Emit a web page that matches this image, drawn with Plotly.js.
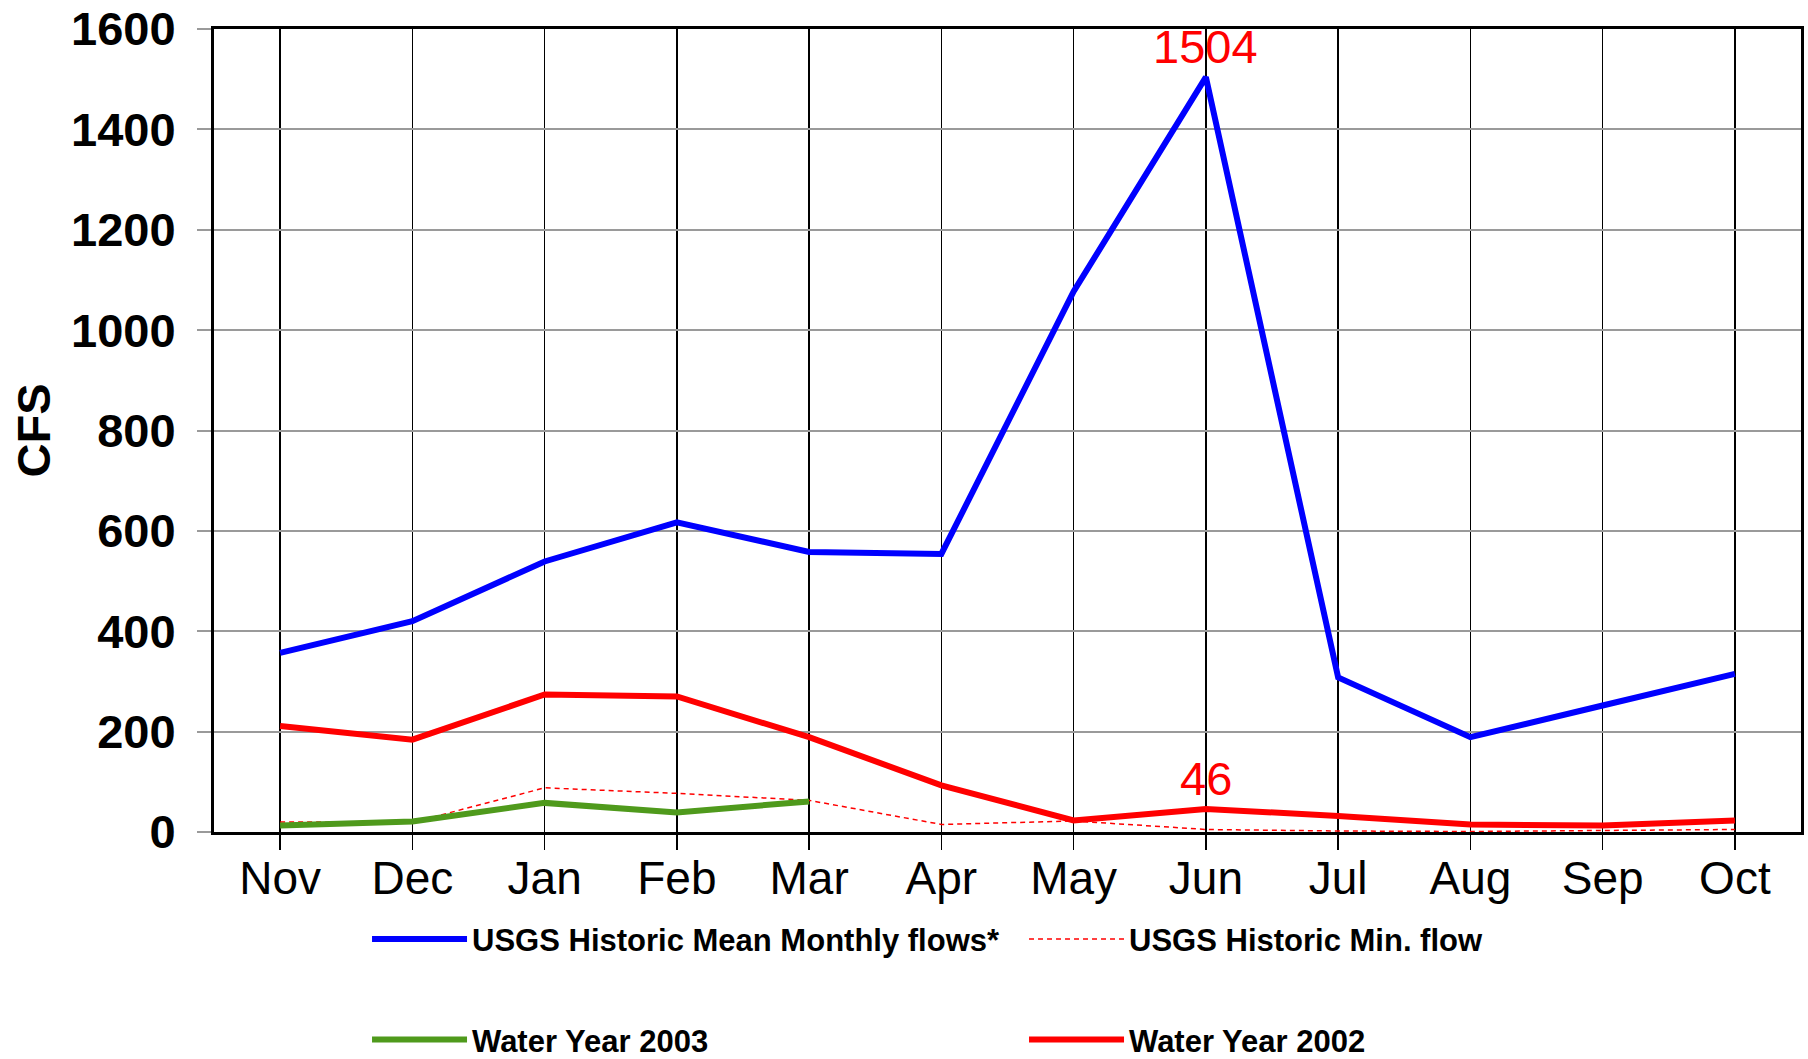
<!DOCTYPE html>
<html>
<head>
<meta charset="utf-8">
<script src="https://cdn.plot.ly/plotly-3.0.1.min.js"></script>
<style>
html,body{margin:0;padding:0;background:#fff;}
#chart{width:1808px;height:1059px;}
</style>
</head>
<body>
<div id="chart"></div>
<script>
const months = ["Nov","Dec","Jan","Feb","Mar","Apr","May","Jun","Jul","Aug","Sep","Oct"];
const meanMonthly = [357, 420, 539, 617, 558, 554, 1077, 1504, 308, 189, 252, 315];
const minFlow = [20, 19, 88, 77, 63, 15, 22, 5, 2, 1, 3, 5];
const wy2003Months = ["Nov","Dec","Jan","Feb","Mar"];
const wy2003 = [13, 21, 58, 39, 61];
const wy2002 = [211, 184, 274, 270, 189, 93, 23, 46, 32, 15, 13, 23];
const yTicks = [0, 200, 400, 600, 800, 1000, 1200, 1400, 1600];
const peakLabels = [{m:"Jun", v:1504, t:"1504"}, {m:"Jun", v:46, t:"46"}];

const FONT = "Liberation Sans, Arial, sans-serif";

const traces = [
  {x: months, y: meanMonthly, type: "scatter", mode: "lines", name: "USGS Historic Mean Monthly flows*",
   line: {color: "#0000ff", width: 6}, legend: "legend"},
  {x: months, y: minFlow, type: "scatter", mode: "lines", name: "USGS Historic Min. flow",
   line: {color: "#ff0000", width: 1.5, dash: "5px,4px"}, legend: "legend"},
  {x: wy2003Months, y: wy2003, type: "scatter", mode: "lines", name: "Water Year 2003",
   line: {color: "#4f9a1c", width: 6}, legend: "legend2"},
  {x: months, y: wy2002, type: "scatter", mode: "lines", name: "Water Year 2002",
   line: {color: "#ff0000", width: 6}, legend: "legend2"}
];

const legendCommon = {
  orientation: "h", xanchor: "left", yanchor: "middle", xref: "container", yref: "container",
  font: {family: FONT, size: 31, color: "#000", weight: "bold"},
  bgcolor: "rgba(0,0,0,0)", borderwidth: 0,
  itemwidth: 95, entrywidth: 547, entrywidthmode: "pixels",
  traceorder: "normal", itemclick: false
};

const layout = {
  width: 1808, height: 1059,
  margin: {l: 214, r: 7, t: 29, b: 227, autoexpand: false},
  paper_bgcolor: "#fff", plot_bgcolor: "#fff",
  showlegend: true,
  xaxis: {
    type: "category", categoryorder: "array", categoryarray: months,
    range: [-0.5, 11.5],
    showgrid: true, gridcolor: "#000", gridwidth: 1.5,
    showline: true, linecolor: "#000", linewidth: 3, mirror: true,
    ticks: "outside", ticklen: 15, tickcolor: "#000", tickwidth: 1.5,
    tickfont: {family: FONT, size: 46, color: "#000"},
    ticklabelstandoff: -11,
    zeroline: false, fixedrange: true
  },
  yaxis: {
    range: [0, 1600], tickvals: yTicks, ticktext: yTicks.map(String),
    showgrid: true, gridcolor: "#9a9a9a", gridwidth: 2,
    showline: true, linecolor: "#000", linewidth: 3, mirror: true,
    ticks: "outside", ticklen: 14, tickcolor: "#9a9a9a", tickwidth: 2,
    tickfont: {family: FONT, size: 47, color: "#000", weight: "bold"},
    ticklabelstandoff: 12,
    title: {text: "CFS", font: {family: FONT, size: 47, color: "#000", weight: "bold"}, standoff: 6},
    zeroline: false, fixedrange: true
  },
  legend: Object.assign({}, legendCommon, {x: 0.203, y: 0.113}),
  legend2: Object.assign({}, legendCommon, {x: 0.203, y: 0.018}),
  annotations: peakLabels.map(p => ({
    x: p.m, y: p.v, xref: "x", yref: "y", text: p.t, showarrow: false,
    yanchor: "bottom", yshift: 2,
    font: {family: FONT, size: 47, color: "#ff0000"}
  }))
};

Plotly.newPlot("chart", traces, layout, {displayModeBar: false, staticPlot: true});
</script>
</body>
</html>
